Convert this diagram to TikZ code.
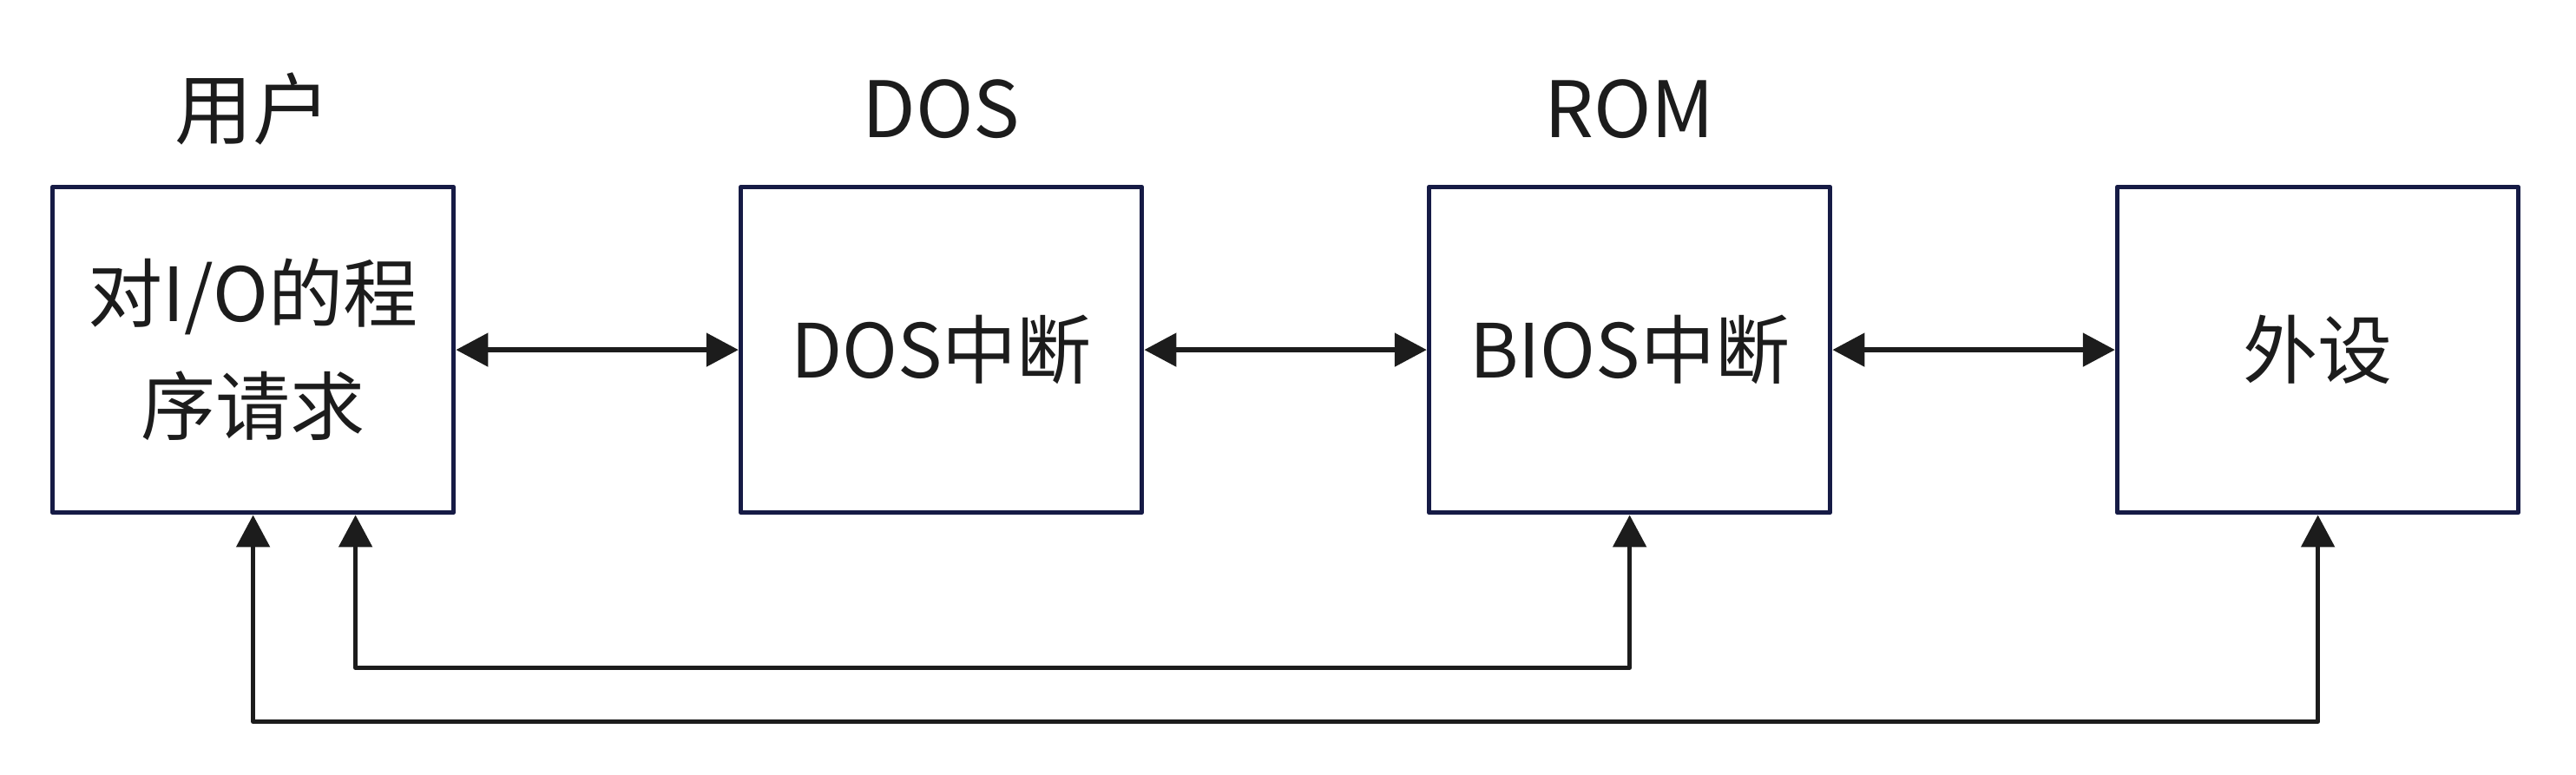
\documentclass[tikz,border=0pt]{standalone}
\usepackage{fontspec}
\setmainfont{Noto Sans CJK SC}
\usepackage{xcolor}
\usepackage{tikz}
\usetikzlibrary{arrows.meta}

\definecolor{boxline}{HTML}{161B45}
\definecolor{inkgray}{HTML}{1C1C1C}

\begin{document}
\begin{tikzpicture}[
        node distance=7.93cm,
        block/.style={rectangle, draw=boxline, line width=1.6pt, line join=round, minimum width=4.62cm, minimum height=3.75cm, align=center, text=inkgray, font=\fontsize{24.5}{37}\selectfont},
        title/.style={text=inkgray, font=\fontsize{25.5}{30}\selectfont},
        arrow/.style={draw=inkgray, line width=1.5pt, line join=round, {Triangle[length=0.37cm, width=0.38cm]}-{Triangle[length=0.37cm, width=0.38cm]}}
    ]
        \useasboundingbox (0,0) rectangle (29.68,8.92);

        % Boxes
        \node[block] (user) at (2.916,4.889) {对I/O的程\\序请求};
        \node[block, right of=user] (dos) {DOS中断};
        \node[block, right of=dos] (bios) {BIOS中断};
        \node[block, right of=bios] (dev) {外设};

        % Titles
        \node[title] (userT) at ([yshift=8.7mm]user.north) {用户};
        \node[title] (dosT) at ([yshift=8.7mm]dos.north) {DOS};
        \node[title] (romT) at ([yshift=8.7mm]bios.north) {ROM};

        % Arrows
        \draw[arrow] (user) -- (dos);
        \draw[arrow] (dos) -- (bios);
        \draw[arrow] (bios) -- (dev);
        \draw[arrow] ([xshift=1.18cm]user.south) |- ([yshift=-1.76cm]bios.south) -- (bios.south);
        \draw[arrow] (user.south) |- ([yshift=-2.38cm]dev.south) -- (dev.south);
    \end{tikzpicture}
\end{document}
